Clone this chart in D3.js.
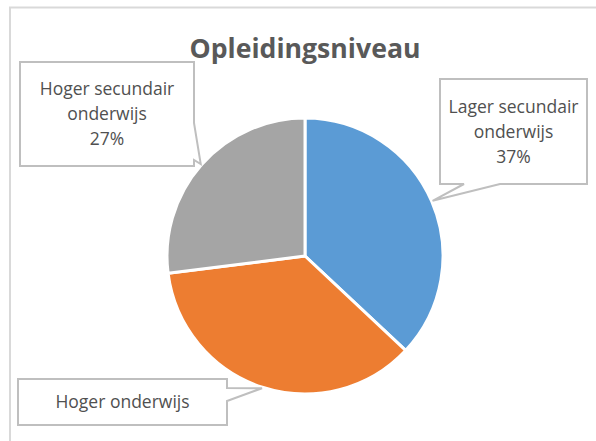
<!DOCTYPE html>
<html><head><meta charset="utf-8">
<script src="https://cdn.jsdelivr.net/npm/d3@7"></script>
<style>body{margin:0;background:#fff}svg{display:block}</style>
</head><body>
<div id="chart"></div>
<script>
const categories = ["Lager secundair onderwijs", "Hoger onderwijs", "Hoger secundair onderwijs"];
const values = [37, 36, 27];
const labelLines = [["Lager secundair", "onderwijs", "37%"], ["Hoger onderwijs"], ["Hoger secundair", "onderwijs", "27%"]];
const colors = ["#5B9BD5", "#ED7D31", "#A5A5A5"];
const title = "Opleidingsniveau";

const W = 596, H = 441;
const cx = 305, cy = 256, R = 138;
const font = "'Open Sans', 'Noto Sans', sans-serif";

// callout layout: box and wedge base (side + two offsets along that side)
const boxes = [
  {x: 440, y: 79, w: 147, h: 105, side: "bottom", b0: 60, b1: 24},
  {x: 18, y: 379, w: 209, h: 46, side: "right", b0: 9, b1: 22},
  {x: 20, y: 62, w: 174, h: 104, side: "right", b0: 61, b1: 98}
];

const svg = d3.select("#chart").append("svg").attr("width", W).attr("height", H);

// outer chart frame
svg.append("rect").attr("x", 10).attr("y", 7.5).attr("width", 620).attr("height", 460)
  .attr("fill", "#fff").attr("stroke", "#d9d9d9").attr("stroke-width", 2);

svg.append("text").attr("x", cx).attr("y", 58).attr("text-anchor", "middle")
  .attr("font-family", font).attr("font-weight", "bold").attr("font-size", 26)
  .attr("fill", "#595959").attr("textLength", 231).attr("lengthAdjust", "spacingAndGlyphs").text(title);

const pie = d3.pie().sort(null).value(d => d)(values);
const arc = d3.arc().innerRadius(0).outerRadius(R);
const g = svg.append("g").attr("transform", `translate(${cx},${cy})`);
g.selectAll("path").data(pie).join("path")
  .attr("d", arc).attr("fill", (d, i) => colors[i])
  .attr("stroke", "#fff").attr("stroke-width", 3).attr("stroke-linejoin", "round");

// callouts
pie.forEach((d, i) => {
  const b = boxes[i];
  const mid = (d.startAngle + d.endAngle) / 2;
  const tx = cx + (R + 1) * Math.sin(mid), ty = cy - (R + 1) * Math.cos(mid);
  const x0 = b.x, y0 = b.y, x1 = b.x + b.w, y1 = b.y + b.h;
  let pts;
  if (b.side === "bottom") {
    pts = [[x0, y0], [x1, y0], [x1, y1], [x0 + b.b0, y1], [tx, ty], [x0 + b.b1, y1], [x0, y1]];
  } else {
    pts = [[x0, y0], [x1, y0], [x1, y0 + b.b0], [tx, ty], [x1, y0 + b.b1], [x1, y1], [x0, y1]];
  }
  svg.append("path").attr("d", d3.line()(pts) + "Z")
    .attr("fill", "#fff").attr("stroke", "#bfbfbf").attr("stroke-width", 2);
  const lines = labelLines[i];
  const lh = 25;
  const mx = (x0 + x1) / 2, my = (y0 + y1) / 2;
  const t = svg.append("text").attr("text-anchor", "middle")
    .attr("font-family", font).attr("font-size", 17.5).attr("fill", "#505050");
  lines.forEach((s, k) => {
    t.append("tspan").attr("x", mx)
      .attr("y", my + (k - (lines.length - 1) / 2) * lh + 6).text(s);
  });
});
</script>
</body></html>
